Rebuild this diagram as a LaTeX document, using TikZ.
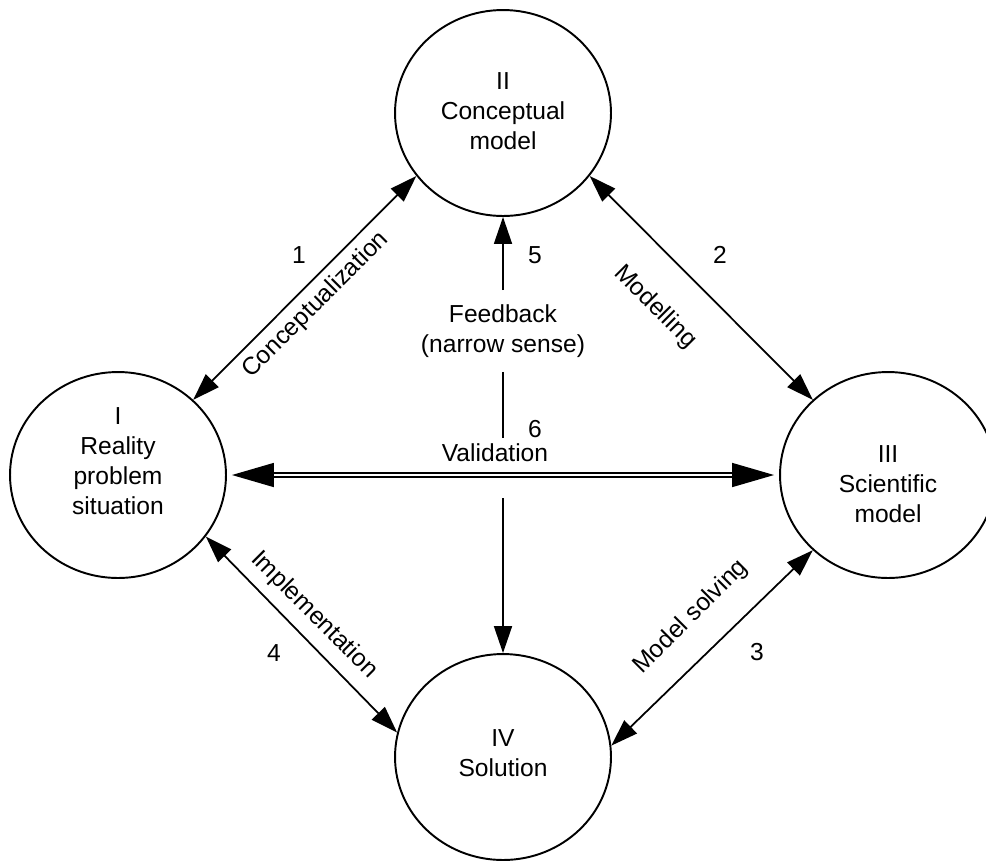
\documentclass[tikz,border=0pt]{standalone}
\usepackage{fontspec}
\setmainfont{Liberation Sans}
\usetikzlibrary{shapes.geometric, arrows.meta, positioning, calc}

\begin{document}
\begin{tikzpicture}[x=0.02cm, y=-0.02cm, font=\fontsize{14}{17}\selectfont,
    >={Triangle[length=0.54cm, width=0.36cm]},
    stage/.style={draw, ellipse, line width=1.1pt, minimum width=4.32cm,
                  minimum height=4.12cm, inner sep=0pt},
    inside/.style={align=center},
    link/.style={<->, line width=1pt},
    valid/.style={double, double distance=1.3pt, line width=0.9pt,
                  {Triangle[length=0.84cm, width=0.48cm]}-{Triangle[length=0.84cm, width=0.48cm]},
                  shorten <=0.1cm, shorten >=0.1cm}]
  \useasboundingbox (0,0) rectangle (986,860);

  % the four stages
  \node[stage, label={[inside, yshift=0.28cm]center:I\\Reality\\problem\\situation}] (I) at (118,475) {};
  \node[stage, label={[inside, yshift=0.04cm]center:II\\Conceptual\\model}] (II) at (503,113) {};
  \node[stage, label={[inside, yshift=-0.18cm]center:III\\Scientific\\model}] (III) at (888,475) {};
  \node[stage, label={[inside, yshift=0.08cm]center:IV\\Solution}] (IV) at (503,757) {};

  % transitions between stages
  \draw[link] (I.45) -- (II.216);
  \draw[link] (II.324) -- (III.135);
  \draw[link] (III.225) -- (IV.6);
  \draw[link] (I.325) -- (IV.167);

  \node[rotate=45]  (conc)  at (316,305) {Conceptualization};
  \node[rotate=-45] (model) at (655,307) {Modelling};
  \node[rotate=45]  (solve) at (691,617) {Model solving};
  \node[rotate=-45] (impl)  at (314,615) {Implementation};

  \node (n1) at (299,255) {1};
  \node (n2) at (720,255) {2};
  \node (n3) at (757,652) {3};
  \node (n4) at (274,653) {4};

  % feedback and validation
  \node[align=center, inner xsep=0pt, inner ysep=8pt] (fb) at (503,331) {Feedback\\(narrow sense)};
  \node (val) at (495,453) {Validation};
  \node (n5) at (535,255) {5};
  \node (n6) at (535,429) {6};
  \coordinate (v1) at (503,438);
  \coordinate (v2) at (503,498);

  \draw[->, line width=1pt] (fb) -- (II);
  \draw[line width=1pt] (fb) -- (v1);
  \draw[->, line width=1pt] (v2) -- (IV);
  \draw[valid] (I.east) -- (III.west);
\end{tikzpicture}
\end{document}
